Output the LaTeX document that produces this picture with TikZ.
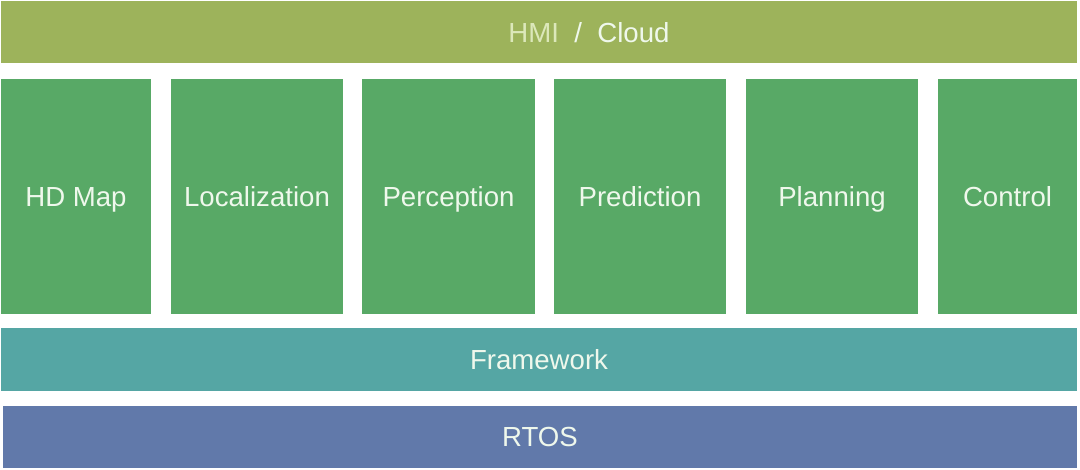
\documentclass[tikz,border=0pt]{standalone}
\usepackage{fontspec}
\setmainfont{Liberation Sans}
\definecolor{hmiolive}{HTML}{9DB35B}
\definecolor{modgreen}{HTML}{58A966}
\definecolor{fwteal}{HTML}{55A6A4}
\definecolor{rtosblue}{HTML}{6179AA}
\definecolor{paletext}{HTML}{EFF8EC}
\definecolor{fadetext}{HTML}{DCE8BA}
\tikzset{layer/.style={inner sep=0pt, outer sep=0pt, minimum height=31pt},
  module/.style={fill=modgreen, inner sep=0pt, outer sep=0pt, minimum height=117.5pt},
  txt/.style={text=paletext, font=\fontsize{13.8}{16}\selectfont, text height=9.8pt, text depth=0pt}}

\begin{document}
\begin{tikzpicture}[x=0.5pt,y=-0.5pt]
\useasboundingbox (0,0) rectangle (1080,470);
% layers
\node [layer, fill=hmiolive, minimum width=538pt] (hmi) at (539,32) {};
\node [txt, inner sep=0pt] (hmitext) at (589,33) {\textcolor{fadetext}{HMI}\ \ /\ \ Cloud};
\node [layer, fill=fwteal, minimum width=538pt, minimum height=31.5pt, txt] (framework) at (539,359.5) {Framework};
\node [layer, fill=rtosblue, minimum width=537pt, txt] (rtos) at (540,437) {RTOS};
% modules
\foreach \n/\x/\w/\t in {hdmap/76/75/HD Map, localization/257/86/Localization,
  perception/448.5/86.5/Perception, prediction/640/86/Prediction,
  planning/832/86/Planning, control/1007.5/69.5/Control}
\node [module, minimum width=\w pt, txt] (\n) at (\x,196.5) {\t};
\end{tikzpicture}
\end{document}
